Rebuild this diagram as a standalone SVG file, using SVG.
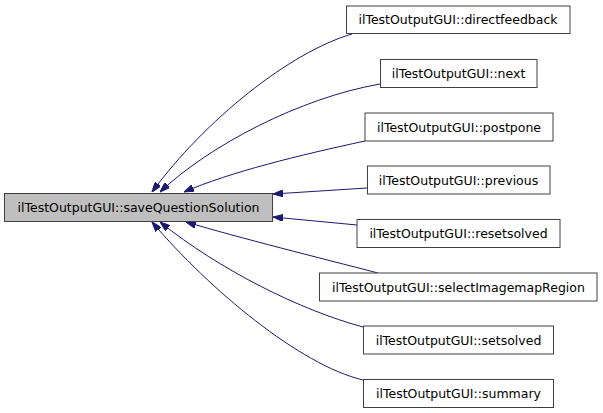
<svg xmlns="http://www.w3.org/2000/svg" width="603" height="413" viewBox="0 0 603 413">
<style>
.n rect{fill:#ffffff;stroke:#404040;stroke-width:1}
.n.main rect{fill:#bfbfbf}
.n text{font-family:"DejaVu Sans",sans-serif;font-size:12.5px;fill:#000000;text-anchor:middle}
.e path{fill:none;stroke:#191970;stroke-width:1;marker-end:url(#ah)}
</style>
<defs>
<marker id="ah" viewBox="0 0 10 7" refX="10" refY="3.5" markerWidth="10" markerHeight="7" markerUnits="userSpaceOnUse" orient="auto">
<path d="M0,0 L10,3.5 L0,7 z" fill="#191970" stroke="#191970" stroke-width="1"/>
</marker>
</defs>
<rect width="603" height="413" fill="#ffffff"/>
<g id="edges" class="e">
<path d="M352,34 C290,52 205,120 152,192"/>
<path d="M380,84 C300,98 210,145 160,192"/>
<path d="M365,141 C300,155 230,172 184,192"/>
<path d="M367,188 L273,194"/>
<path d="M357,225 L273,217"/>
<path d="M378,273 C320,258 240,238 186,222"/>
<path d="M363,327 C300,310 220,270 160,222"/>
<path d="M363,380 C300,365 210,290 152,222"/>
</g>
<g id="main" class="n main"><rect x="4.5" y="193.5" width="268" height="28"/><text x="138.5" y="212">ilTestOutputGUI::saveQuestionSolution</text></g>
<g id="directfeedback" class="n"><rect x="346.5" y="6" width="223.5" height="27.5"/><text x="458" y="24">ilTestOutputGUI::directfeedback</text></g>
<g id="next" class="n"><rect x="380.5" y="59.5" width="156.5" height="28"/><text x="458.5" y="78">ilTestOutputGUI::next</text></g>
<g id="postpone" class="n"><rect x="365" y="113" width="188" height="28"/><text x="459" y="131.5">ilTestOutputGUI::postpone</text></g>
<g id="previous" class="n"><rect x="367.5" y="166" width="182.5" height="28"/><text x="458.5" y="184.5">ilTestOutputGUI::previous</text></g>
<g id="resetsolved" class="n"><rect x="357" y="219.5" width="203" height="28"/><text x="458.5" y="238">ilTestOutputGUI::resetsolved</text></g>
<g id="selectImagemapRegion" class="n"><rect x="319.5" y="273" width="277.5" height="28"/><text x="458.5" y="291.5">ilTestOutputGUI::selectImagemapRegion</text></g>
<g id="setsolved" class="n"><rect x="363.5" y="326" width="190" height="28"/><text x="458.5" y="344.5">ilTestOutputGUI::setsolved</text></g>
<g id="summary" class="n"><rect x="363.5" y="379.5" width="190" height="28"/><text x="458.5" y="398">ilTestOutputGUI::summary</text></g>
</svg>
